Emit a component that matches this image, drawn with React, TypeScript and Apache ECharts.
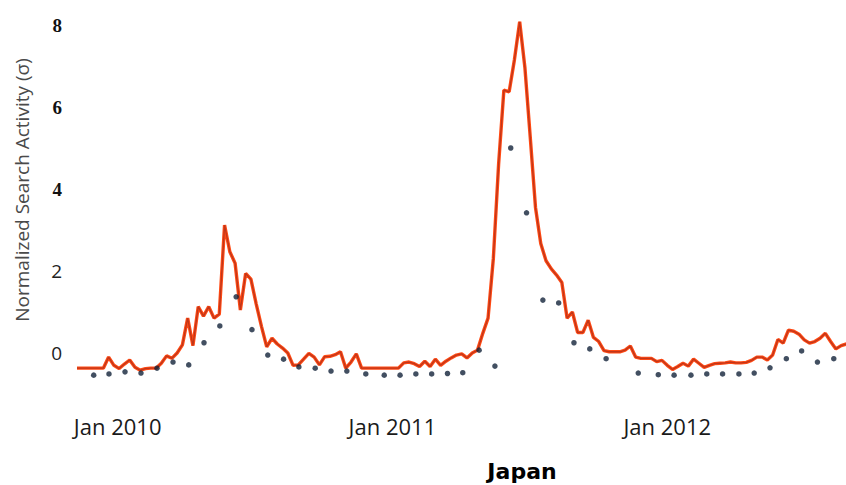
import React, { useEffect, useRef } from "react";
import * as echarts from "echarts";

// Weekly series start (first week shown)
const START_DATE = Date.UTC(2009, 10, 8);
const WEEK_MS = 7 * 86400000;

// Weekly normalized search activity (red/orange line)
const lineValues = [
  -0.37, -0.37, -0.37, -0.37, -0.37, -0.37, -0.1, -0.3, -0.38, -0.27,
  -0.17, -0.35, -0.42, -0.38, -0.37, -0.37, -0.25, -0.07, -0.13, 0.0,
  0.2, 0.85, 0.18, 1.13, 0.9, 1.13, 0.85, 0.95, 3.12, 2.47,
  2.19, 1.05, 1.94, 1.8, 1.2, 0.65, 0.15, 0.36, 0.22, 0.12,
  0.0, -0.3, -0.29, -0.15, -0.01, -0.1, -0.29, -0.09, -0.08, -0.04,
  0.03, -0.37, -0.22, -0.02, -0.37, -0.37, -0.37, -0.37, -0.37, -0.37,
  -0.37, -0.37, -0.24, -0.22, -0.26, -0.33, -0.2, -0.33, -0.15, -0.3,
  -0.2, -0.12, -0.05, -0.02, -0.12, 0.0, 0.07, 0.48, 0.85, 2.3,
  4.6, 6.41, 6.37, 7.15, 8.08, 6.95, 5.27, 3.55, 2.67, 2.25,
  2.05, 1.9, 1.72, 0.85, 1.0, 0.5, 0.5, 0.8, 0.38, 0.28,
  0.06, 0.03, 0.03, 0.03, 0.07, 0.17, -0.1, -0.13, -0.13, -0.13,
  -0.21, -0.18, -0.3, -0.4, -0.33, -0.25, -0.32, -0.15, -0.25, -0.35,
  -0.3, -0.26, -0.25, -0.24, -0.22, -0.24, -0.24, -0.23, -0.18, -0.1,
  -0.1, -0.17, -0.05, 0.33, 0.24, 0.56, 0.53, 0.46, 0.32, 0.24,
  0.28, 0.36, 0.48, 0.28, 0.1, 0.18, 0.22,
];

// Sparser samples (dark dots): position in weeks from START_DATE, and value
const dotWeeks = [
  3.17, 6.07, 9.11, 12.14, 15.18, 18.22, 21.2, 24.1, 27.1, 30.2,
  33.2, 36.2, 39.2, 42.1, 45.2, 48.2, 51.2, 54.8, 58.3, 61.3,
  64.3, 67.3, 70.3, 73.2, 76.3, 79.3, 82.3, 85.3, 88.4, 91.4,
  94.3, 97.3, 100.4, 106.5, 110.3, 113.3, 116.5, 119.5, 122.5, 125.6,
  128.5, 131.5, 134.6, 137.5, 140.5, 143.6,
];
const dotValues = [
  -0.54, -0.51, -0.46, -0.49, -0.37, -0.22, -0.29, 0.25, 0.66, 1.37,
  0.57, -0.05, -0.15, -0.34, -0.37, -0.44, -0.44, -0.51, -0.54, -0.54,
  -0.51, -0.51, -0.5, -0.48, 0.07, -0.32, 5.0, 3.42, 1.29, 1.22,
  0.25, 0.1, -0.14, -0.49, -0.53, -0.54, -0.54, -0.51, -0.51, -0.51,
  -0.49, -0.36, -0.14, 0.05, -0.22, -0.14,
];

const yTickValues = [0, 2, 4, 6, 8];
const xLabelYears = [2010, 2011, 2012];
const X_END_WEEKS = 145.92;

const weeksFromStart = (ms: number) => (ms - START_DATE) / WEEK_MS;

const App: React.FC = () => {
  const ref = useRef<HTMLDivElement>(null);

  useEffect(() => {
    if (!ref.current) return;
    const chart = echarts.init(ref.current, null, { renderer: "svg" });

    const lineData = lineValues.map((v, i) => [i, v]);
    const dotData = dotWeeks.map((w, i) => [w, dotValues[i]]);
    const labelPositions = xLabelYears.map((y) => weeksFromStart(Date.UTC(y, 0, 1)));

    chart.setOption({
      animation: false,
      backgroundColor: "#ffffff",
      grid: { left: 77, right: 0, top: 8.6, bottom: 91 },
      xAxis: {
        type: "value",
        min: 0,
        max: X_END_WEEKS,
        axisLine: { show: false },
        axisTick: { show: false },
        splitLine: { show: false },
        axisLabel: {
          customValues: labelPositions,
          formatter: (v: number) =>
            "Jan " + new Date(START_DATE + v * WEEK_MS + 86400000).getUTCFullYear(),
          fontFamily: "Open Sans",
          fontSize: 22,
          color: "#1a1a1a",
          margin: 21,
          showMinLabel: true,
          showMaxLabel: true,
          hideOverlap: false,
        },
      },
      yAxis: {
        type: "value",
        min: -1,
        max: 8.4,
        axisLine: { show: false },
        axisTick: { show: false },
        splitLine: { show: false },
        axisLabel: {
          customValues: yTickValues,
          margin: 15,
          formatter: (v: number) => (v >= 4 ? `{serif|${v}}` : `{sans|${v}}`),
          rich: {
            serif: {
              fontFamily: "Liberation Serif",
              fontWeight: "bold",
              fontSize: 19,
              color: "#111111",
            },
            sans: {
              fontFamily: "Open Sans",
              fontSize: 19,
              color: "#222222",
            },
          },
        },
      },
      graphic: [
        {
          type: "text",
          x: 22,
          y: 190,
          rotation: Math.PI / 2,
          style: {
            text: "Normalized Search Activity (σ)",
            x: 0,
            y: 0,
            align: "center",
            verticalAlign: "middle",
            fontFamily: "Open Sans",
            fontSize: 19,
            fill: "#4a4a4a",
          },
        },
        {
          type: "text",
          x: 522,
          y: 471,
          style: {
            text: "Japan",
            x: 0,
            y: 0,
            align: "center",
            verticalAlign: "middle",
            fontFamily: "DejaVu Sans",
            fontWeight: "bold",
            fontSize: 22,
            fill: "#000000",
          },
        },
      ],
      series: [
        {
          type: "line",
          data: lineData,
          showSymbol: false,
          symbol: "none",
          lineStyle: { color: "#ff4a14", width: 3.4 },
          z: 2,
        },
        {
          type: "line",
          data: lineData,
          showSymbol: false,
          symbol: "none",
          lineStyle: { color: "#c0361a", width: 1.3 },
          z: 3,
        },
        {
          type: "scatter",
          data: dotData,
          symbol: "circle",
          symbolSize: 5.5,
          itemStyle: { color: "#13233a" },
          z: 4,
        },
      ],
    });

    return () => chart.dispose();
  }, []);

  return (
    <div
      ref={ref}
      style={{ position: "fixed", left: 0, top: 0, width: 846, height: 485 }}
    />
  );
};

export default App;
